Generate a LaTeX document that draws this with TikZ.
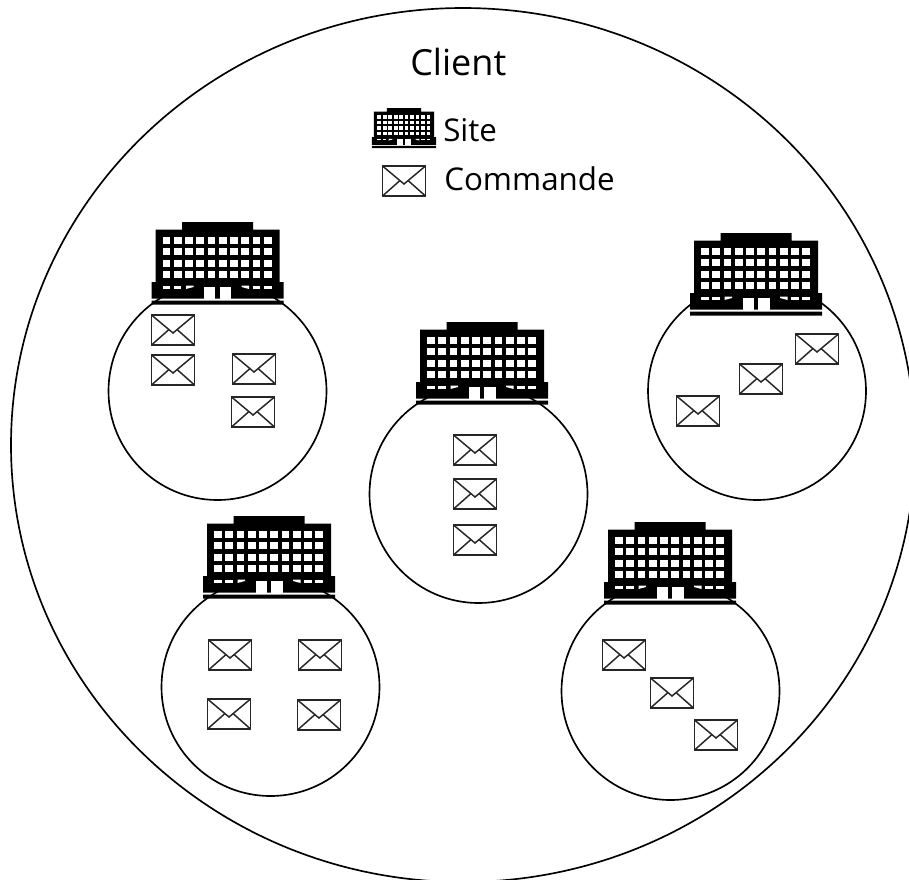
\documentclass[tikz,border=0pt]{standalone}
\usepackage{fontspec}
\setmainfont{Open Sans}
\tikzset{
  x=0.75pt,y=-0.75pt,
  ring/.style={draw=black,line width=1.25pt,fill=none},
  envline/.style={draw=black!85,line width=1.1pt,line join=miter},
  lbl/.style={inner sep=0pt,anchor=base west,font=\fontsize{27pt}{32pt}\selectfont},
  envelope/.pic={
    \path[envline,fill=white] (-21.5,-15) rectangle (21.5,15);
    \path[envline] (-21.5,-15) -- (0,3) -- (21.5,-15);
    \path[envline] (-21.5,15) -- (-4,-0.5);
    \path[envline] (21.5,15) -- (4,-0.5);
  },
  building/.pic={
    % origin: top centre of the roof block
    \fill[black] (-35.5,0) rectangle (35.5,8)
      (-62,7.5) rectangle (62,60)
      (-66,60) rectangle (66,76.5)
      (-66,78.5) rectangle (66,82.5);
    \foreach \c in {0,...,9}{
      \foreach \r in {0,...,3}{
        \fill[white] ({-55+\c*11.27},{15+\r*11.3}) rectangle ++(7.8,7);
      }
    }
    \foreach \c in {0,1,9,8}{
      \fill[white] ({-55+\c*11.27},63.5) rectangle ++(7.6,3.4);
    }
    \fill[white] (-31.5,63.5) -- (-24,63.5) -- (-24,65) -- (-31.5,67) -- cycle;
    \fill[white] (31.5,63.5) -- (24,63.5) -- (24,65) -- (31.5,67) -- cycle;
    \fill[white] (-13.5,64.5) rectangle (-2.3,76.5);
    \fill[white] (2.3,64.5) rectangle (13.5,76.5);
  }
}
\begin{document}
\begin{tikzpicture}
\useasboundingbox (0,0) rectangle (909,879);
\begin{scope}
\clip (0,0) rectangle (909,879);
\draw[ring] (463,445) ellipse [x radius=452,y radius=437];
\end{scope}
\node[lbl] (client) at (410,75) {Client};
\node[lbl,font=\fontsize{23.5pt}{28pt}\selectfont] (site) at (443,141) {Site};
\node[lbl,font=\fontsize{23.5pt}{28pt}\selectfont] (commande) at (444,190) {Commande};
\pic[scale=0.485,transform shape] at (404,108) {building};
\pic at (404,181) {envelope};
% circles
\draw[ring] (217.5,391) circle [radius=109];
\draw[ring] (478.5,494) circle [radius=109];
\draw[ring] (757,391) circle [radius=109];
\draw[ring] (270.5,687) circle [radius=109];
\draw[ring] (670.5,691) circle [radius=109];
% buildings
\pic at (217.5,222) {building};
\pic at (482,322) {building};
\pic at (756,233) {building};
\pic at (269,516) {building};
\pic at (670,522) {building};
% envelopes
\foreach \p in {(173,330),(173,370),(254,369),(253,412),
  (475,450),(475,494),(475,540),
  (817,349),(761,379),(698,411),
  (230,655),(320,655),(229,714),(319,715),
  (624,655),(672,693),(716,735)}{
  \pic at \p {envelope};
}
\end{tikzpicture}
\end{document}
